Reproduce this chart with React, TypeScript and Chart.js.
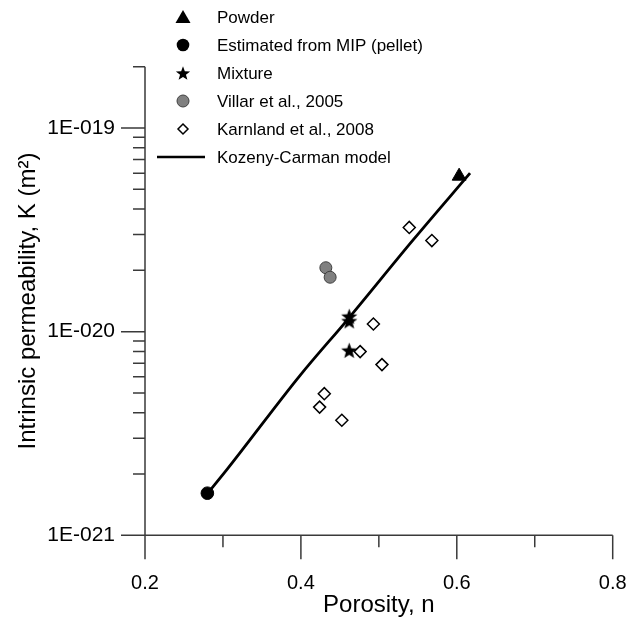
import React, { useEffect, useRef } from 'react';
import { Chart, registerables } from 'chart.js';

Chart.register(...registerables);

// ---- data ----
const powderN = [0.603];
const powderK = [5.8e-20];

const mipN = [0.28];
const mipK = [1.61e-21];

const mixtureN = [0.462, 0.462, 0.462];
const mixtureK = [1.19e-20, 1.13e-20, 8.1e-21];

const villarN = [0.432, 0.4375];
const villarK = [2.06e-20, 1.85e-20];

const karnlandN = [0.539, 0.568, 0.493, 0.476, 0.504, 0.43, 0.424, 0.4525];
const karnlandK = [3.25e-20, 2.8e-20, 1.09e-20, 7.98e-21, 6.89e-21, 4.96e-21, 4.26e-21, 3.67e-21];

const kcN = [0.2805, 0.305, 0.399, 0.461, 0.544, 0.617];
const kcK = [1.61e-21, 2.1e-21, 6.1e-21, 1.16e-20, 2.82e-20, 6.0e-20];

const xTickValues = [0.2, 0.3, 0.4, 0.5, 0.6, 0.7, 0.8];
const xMajorTicks = [0.2, 0.4, 0.6, 0.8];
const yMajorTicks = [1e-21, 1e-20, 1e-19];
const yMinorMultipliers = [2, 3, 4, 5, 6, 7, 8, 9];
const xMin = 0.2;
const xMax = 0.8;
const yMin = 1e-21;
const yMax = 2e-19;

const legendLabels = [
  'Powder',
  'Estimated from MIP (pellet)',
  'Mixture',
  'Villar et al., 2005',
  'Karnland et al., 2008',
  'Kozeny-Carman model',
];

const xTitle = 'Porosity, n';
const yTitle = 'Intrinsic permeability, K (m\u00B2)';

const FONT = '"Liberation Sans", Arial, sans-serif';
const AXIS_COLOR = '#3a3a3a';
const VILLAR_FILL = '#808080';
const VILLAR_BORDER = '#404040';

const pts = (xs: number[], ys: number[]) => xs.map((x, i) => ({ x, y: ys[i] }));

const yTickValues: number[] = [];
yMajorTicks.forEach((m) => {
  yTickValues.push(m);
  yMinorMultipliers.forEach((k) => {
    const v = m * k;
    if (v <= yMax * 1.0001) yTickValues.push(v);
  });
});

const isMajorY = (v: number) => yMajorTicks.some((m) => Math.abs(v / m - 1) < 1e-6);
const isMajorX = (v: number) => xMajorTicks.some((m) => Math.abs(v - m) < 1e-6);

const fmtY = (v: number) => {
  const e = Math.round(Math.log10(v));
  const s = String(Math.abs(e)).padStart(3, '0');
  return `1E${e < 0 ? '-' : '+'}${s}`;
};

function drawStar(ctx: CanvasRenderingContext2D, cx: number, cy: number, R: number, r: number) {
  ctx.beginPath();
  for (let i = 0; i < 10; i++) {
    const rad = i % 2 === 0 ? R : r;
    const a = -Math.PI / 2 + (i * Math.PI) / 5;
    const px = cx + rad * Math.cos(a);
    const py = cy + rad * Math.sin(a);
    if (i === 0) ctx.moveTo(px, py);
    else ctx.lineTo(px, py);
  }
  ctx.closePath();
  ctx.fill();
}

function makeStarImage(R: number) {
  const size = Math.ceil(R * 2 + 2);
  const c = document.createElement('canvas');
  c.width = size;
  c.height = size;
  const g = c.getContext('2d')!;
  g.fillStyle = '#000';
  drawStar(g, size / 2, size / 2 + R * 0.1, R, R * 0.42);
  return c;
}

const axesPlugin = {
  id: 'customAxes',
  beforeDatasetsDraw(chart: any) {
    const { ctx, scales } = chart;
    const x = scales.x;
    const y = scales.y;
    const x0 = x.getPixelForValue(xMin);
    const x1 = x.getPixelForValue(xMax);
    const yb = y.getPixelForValue(yMin);
    const yt = y.getPixelForValue(yMax);
    ctx.save();
    ctx.strokeStyle = AXIS_COLOR;
    ctx.lineWidth = 1.5;
    ctx.beginPath();
    ctx.moveTo(x0, yt);
    ctx.lineTo(x0, yb);
    ctx.moveTo(x0, yb);
    ctx.lineTo(x1, yb);
    xTickValues.forEach((v) => {
      const px = x.getPixelForValue(v);
      const len = isMajorX(v) ? 24 : 12;
      ctx.moveTo(px, yb);
      ctx.lineTo(px, yb + len);
    });
    yTickValues.forEach((v) => {
      const py = y.getPixelForValue(v);
      const len = isMajorY(v) ? 24 : 12;
      ctx.moveTo(x0, py);
      ctx.lineTo(x0 - len, py);
    });
    ctx.stroke();
    ctx.restore();
  },
  afterDraw(chart: any) {
    const { ctx } = chart;
    const mx = 183;
    const tx = 217;
    const rows = [17, 45, 73, 101, 129, 157];
    ctx.save();
    ctx.fillStyle = '#000';
    ctx.beginPath();
    ctx.moveTo(mx, rows[0] - 7);
    ctx.lineTo(mx + 7.5, rows[0] + 6);
    ctx.lineTo(mx - 7.5, rows[0] + 6);
    ctx.closePath();
    ctx.fill();
    ctx.beginPath();
    ctx.arc(mx, rows[1], 6.3, 0, Math.PI * 2);
    ctx.fill();
    drawStar(ctx, mx, rows[2] + 0.8, 7.5, 3.1);
    ctx.beginPath();
    ctx.arc(mx, rows[3], 6, 0, Math.PI * 2);
    ctx.fillStyle = VILLAR_FILL;
    ctx.fill();
    ctx.strokeStyle = VILLAR_BORDER;
    ctx.lineWidth = 1;
    ctx.stroke();
    ctx.beginPath();
    ctx.moveTo(mx, rows[4] - 5);
    ctx.lineTo(mx + 5, rows[4]);
    ctx.lineTo(mx, rows[4] + 5);
    ctx.lineTo(mx - 5, rows[4]);
    ctx.closePath();
    ctx.fillStyle = '#fff';
    ctx.fill();
    ctx.strokeStyle = '#000';
    ctx.lineWidth = 1.5;
    ctx.stroke();
    ctx.beginPath();
    ctx.moveTo(157, rows[5]);
    ctx.lineTo(205, rows[5]);
    ctx.lineWidth = 2.5;
    ctx.stroke();
    ctx.fillStyle = '#000';
    ctx.font = `17px ${FONT}`;
    ctx.textAlign = 'left';
    ctx.textBaseline = 'middle';
    legendLabels.forEach((t, i) => ctx.fillText(t, tx, rows[i] + 1));
    ctx.restore();
  },
};

export default function App() {
  const ref = useRef<HTMLCanvasElement | null>(null);

  useEffect(() => {
    document.body.style.margin = '0';
    const canvas = ref.current;
    if (!canvas) return;
    const starImg = makeStarImage(8.5);

    const chart = new Chart(canvas, {
      type: 'scatter',
      data: {
        datasets: [
          {
            label: legendLabels[0],
            data: pts(powderN, powderK),
            pointStyle: 'triangle',
            pointRadius: 8,
            backgroundColor: '#000',
            borderColor: '#000',
            borderWidth: 1,
            order: 1,
          },
          {
            label: legendLabels[1],
            data: pts(mipN, mipK),
            pointStyle: 'circle',
            pointRadius: 6.3,
            backgroundColor: '#000',
            borderColor: '#000',
            borderWidth: 1,
            order: 1,
          },
          {
            label: legendLabels[2],
            data: pts(mixtureN, mixtureK),
            pointStyle: starImg as any,
            pointRadius: 8,
            backgroundColor: '#000',
            borderColor: '#000',
            order: 1,
          },
          {
            label: legendLabels[3],
            data: pts(villarN, villarK),
            pointStyle: 'circle',
            pointRadius: 6,
            backgroundColor: VILLAR_FILL,
            borderColor: VILLAR_BORDER,
            borderWidth: 1,
            order: 1,
          },
          {
            label: legendLabels[4],
            data: pts(karnlandN, karnlandK),
            pointStyle: 'rectRot',
            pointRadius: 6,
            backgroundColor: '#fff',
            borderColor: '#000',
            borderWidth: 1.5,
            order: 1,
          },
          {
            label: legendLabels[5],
            data: pts(kcN, kcK),
            showLine: true,
            pointRadius: 0,
            borderColor: '#000',
            borderWidth: 2.8,
            cubicInterpolationMode: 'monotone',
            fill: false,
            order: 5,
          } as any,
        ],
      },
      options: {
        responsive: false,
        animation: false,
        events: [],
        layout: { padding: { left: 0, right: 27.3, top: 66.7, bottom: 0 } },
        plugins: {
          legend: { display: false },
          tooltip: { enabled: false },
        },
        scales: {
          x: {
            type: 'linear',
            min: xMin,
            max: xMax,
            grid: { display: false, drawTicks: false },
            border: { display: false },
            afterBuildTicks: (s: any) => {
              s.ticks = xTickValues.map((v) => ({ value: v }));
            },
            afterFit: (s: any) => {
              s.height = 85.7;
              s.paddingLeft = 0;
              s.paddingRight = 0;
            },
            ticks: {
              autoSkip: false,
              maxRotation: 0,
              padding: 36,
              color: '#000',
              font: { family: FONT, size: 20 },
              callback: (v: any) => (isMajorX(Number(v)) ? Number(v).toFixed(1) : ''),
            },
            title: {
              display: true,
              text: xTitle,
              color: '#000',
              font: { family: FONT, size: 24 },
              padding: { top: 0, bottom: 1 },
            },
          },
          y: {
            type: 'logarithmic',
            min: yMin,
            max: yMax,
            grid: { display: false, drawTicks: false },
            border: { display: false },
            afterBuildTicks: (s: any) => {
              s.ticks = yTickValues.map((v) => ({ value: v }));
            },
            afterFit: (s: any) => {
              s.width = 145;
              s.paddingTop = 0;
              s.paddingBottom = 0;
            },
            ticks: {
              autoSkip: false,
              padding: 30,
              color: '#000',
              font: { family: FONT, size: 21 },
              callback: (v: any) => (isMajorY(Number(v)) ? fmtY(Number(v)) : ''),
            },
            title: {
              display: true,
              text: yTitle,
              color: '#000',
              font: { family: FONT, size: 24 },
              padding: { top: 14, bottom: 0 },
            },
          },
        },
      },
      plugins: [axesPlugin],
    } as any);

    return () => chart.destroy();
  }, []);

  return (
    <div style={{ width: 640, height: 621, position: 'relative', background: '#fff' }}>
      <canvas ref={ref} width={640} height={621} style={{ display: 'block' }} />
    </div>
  );
}
